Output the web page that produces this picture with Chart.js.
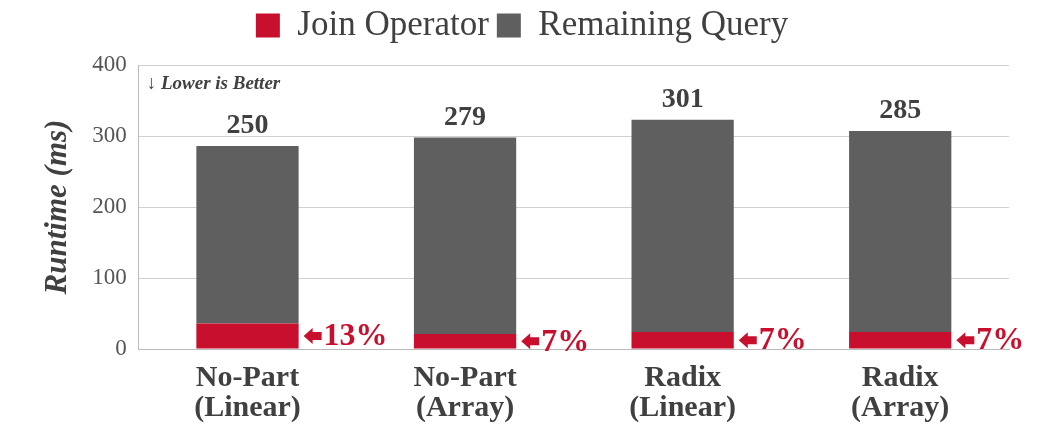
<!DOCTYPE html>
<html><head><meta charset="utf-8">
<script src="https://cdn.jsdelivr.net/npm/chart.js@4"></script>
<style>html,body{margin:0;background:#fff}#w{width:1037px;height:429px}</style>
</head><body><div id="w"><canvas id="c" width="1037" height="429"></canvas></div>
<script>
const categories=[["No-Part","(Linear)"],["No-Part","(Array)"],["Radix","(Linear)"],["Radix","(Array)"]];
const joinOperator=[36,21,24,24];
const remainingQuery=[250,277,299,283];
const topLabels=["250","279","301","285"];
const pctLabels=["13%","7%","7%","7%"];
const yTicks=[0,100,200,300,400];
const RED="#c8102e",GRAY="#5f5f5f",FONT="'Liberation Serif', serif";
const legendSpace={id:"legendSpace",beforeInit(ch){const f=ch.legend.fit;ch.legend.fit=function(){f.bind(ch.legend)();this.height+=12;};}};
const labelPlugin={id:"lbl",afterDatasetsDraw(ch){
 const ctx=ch.ctx,m0=ch.getDatasetMeta(0),m1=ch.getDatasetMeta(1);
 ctx.save();
 m1.data.forEach((el,i)=>{
  ctx.fillStyle="#404040";ctx.font="bold 28px "+FONT;ctx.textAlign="center";ctx.textBaseline="bottom";
  ctx.fillText(topLabels[i],el.x,el.y-6);
  const j=m0.data[i];const x=j.x+j.width/2+5,y=(j.y+j.base)/2;
  ctx.fillStyle=RED;ctx.beginPath();
  ctx.moveTo(x,y);ctx.lineTo(x+9,y-8);ctx.lineTo(x+9,y-4);ctx.lineTo(x+18,y-4);ctx.lineTo(x+18,y+4);ctx.lineTo(x+9,y+4);ctx.lineTo(x+9,y+8);ctx.closePath();ctx.fill();
  ctx.font="bold 32px "+FONT;ctx.textAlign="left";ctx.textBaseline="middle";
  ctx.fillText(pctLabels[i],x+20,y+1);
 });
 const a=ch.chartArea;
 ctx.fillStyle="#404040";ctx.font="italic bold 19px "+FONT;ctx.textAlign="left";ctx.textBaseline="middle";
 ctx.fillText("↓ Lower is Better",a.left+8,a.top+19);
 ctx.restore();
}};
new Chart(document.getElementById("c"),{type:"bar",
 data:{labels:categories,datasets:[
  {label:"Join Operator",data:joinOperator,backgroundColor:RED,barPercentage:0.47,categoryPercentage:1},
  {label:"Remaining Query",data:remainingQuery,backgroundColor:GRAY,barPercentage:0.47,categoryPercentage:1}]},
 options:{responsive:false,animation:false,
  layout:{padding:{left:35,right:28,top:0,bottom:0}},
  plugins:{tooltip:{enabled:false},
   legend:{position:"top",labels:{font:{family:FONT,size:35},color:"#404040",boxWidth:24,boxHeight:24,padding:8}}},
  scales:{
   x:{stacked:true,grid:{display:false},border:{color:"#bbb"},
      ticks:{font:{family:FONT,size:30,weight:"bold",lineHeight:1.0},color:"#404040",padding:6}},
   y:{stacked:true,min:0,max:400,afterBuildTicks(s){s.ticks=yTicks.map(v=>({value:v}));},
      grid:{color:"#d0d0d0",drawTicks:false},border:{display:true,color:"#bbb"},
      ticks:{font:{family:FONT,size:23},color:"#555",padding:12},
      title:{display:true,text:"Runtime (ms)",font:{family:FONT,size:31,weight:"bold",style:"italic"},color:"#404040",padding:4}}}},
 plugins:[legendSpace,labelPlugin]});
</script></body></html>
